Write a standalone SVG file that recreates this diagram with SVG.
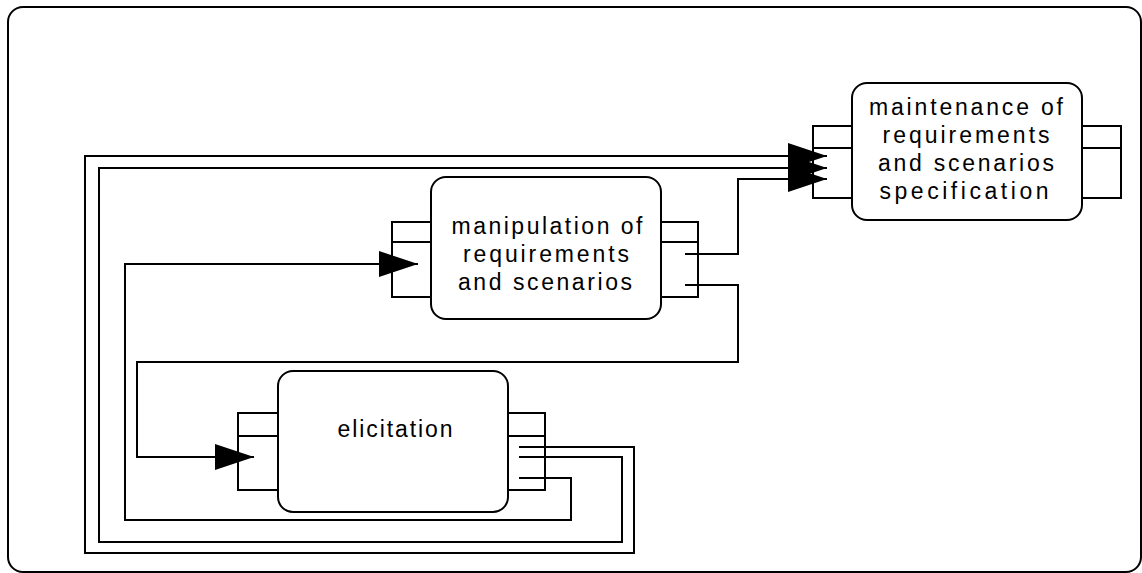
<svg xmlns="http://www.w3.org/2000/svg" width="1142" height="573" viewBox="0 0 1142 573">
<style>
  .frame { fill: #ffffff; stroke: #000000; stroke-width: 2; }
  .box { fill: #ffffff; stroke: #000000; stroke-width: 2; }
  .port { fill: #ffffff; stroke: #000000; stroke-width: 2; }
  .conn { fill: none; stroke: #000000; stroke-width: 2; }
  .lbl { font-family: "Liberation Sans", Arial, sans-serif; font-size: 23px; fill: #000000; text-anchor: middle; }
</style>
<defs>
  <marker id="arrow" viewBox="0 0 39 26" refX="39" refY="13" markerWidth="39" markerHeight="26" markerUnits="userSpaceOnUse" orient="auto">
    <path d="M0,0 L39,13 L0,26 Z" fill="#000000"/>
  </marker>
</defs>
<rect x="0" y="0" width="1142" height="573" fill="#ffffff"/>
<rect class="frame" x="8" y="7" width="1133" height="565" rx="15" ry="15"/>

<g id="maintenance">
  <rect class="port" x="813" y="126" width="39" height="72"/>
  <line class="port" x1="813" y1="148" x2="852" y2="148"/>
  <rect class="port" x="1082" y="126" width="39" height="72"/>
  <line class="port" x1="1082" y1="148" x2="1121" y2="148"/>
  <rect class="box" x="852" y="83" width="230" height="137" rx="15" ry="15"/>
  <text class="lbl" x="966" y="115" textLength="194" lengthAdjust="spacing">maintenance of</text>
  <text class="lbl" x="966" y="143" textLength="167" lengthAdjust="spacing">requirements</text>
  <text class="lbl" x="966" y="171" textLength="176" lengthAdjust="spacing">and scenarios</text>
  <text class="lbl" x="964" y="199" textLength="169" lengthAdjust="spacing">specification</text>
</g>

<g id="manipulation">
  <rect class="port" x="392" y="222" width="39" height="75"/>
  <line class="port" x1="392" y1="242" x2="431" y2="242"/>
  <rect class="port" x="661" y="222" width="37" height="75"/>
  <line class="port" x1="661" y1="242" x2="698" y2="242"/>
  <rect class="box" x="431" y="177" width="230" height="142" rx="15" ry="15"/>
  <text class="lbl" x="547" y="234" textLength="191" lengthAdjust="spacing">manipulation of</text>
  <text class="lbl" x="546" y="262" textLength="166" lengthAdjust="spacing">requirements</text>
  <text class="lbl" x="545" y="290" textLength="174" lengthAdjust="spacing">and scenarios</text>
</g>

<g id="elicitation">
  <rect class="port" x="238" y="413" width="40" height="77"/>
  <line class="port" x1="238" y1="436" x2="278" y2="436"/>
  <rect class="port" x="508" y="413" width="37" height="77"/>
  <line class="port" x1="508" y1="436" x2="545" y2="436"/>
  <rect class="box" x="278" y="371" width="230" height="141" rx="15" ry="15"/>
  <text class="lbl" x="395" y="437" textLength="115" lengthAdjust="spacing">elicitation</text>
</g>

<g id="connectors">
  <polyline class="conn" points="519,447 634,447 634,553 85,553 85,156 827,156" marker-end="url(#arrow)"/>
  <polyline class="conn" points="519,457 622,457 622,542 99,542 99,168 827,168" marker-end="url(#arrow)"/>
  <polyline class="conn" points="519,478 571,478 571,520 125,520 125,264 418,264" marker-end="url(#arrow)"/>
  <polyline class="conn" points="685,254 738,254 738,179 827,179" marker-end="url(#arrow)"/>
  <polyline class="conn" points="685,285 738,285 738,362 137,362 137,457 254,457" marker-end="url(#arrow)"/>
</g>
</svg>
